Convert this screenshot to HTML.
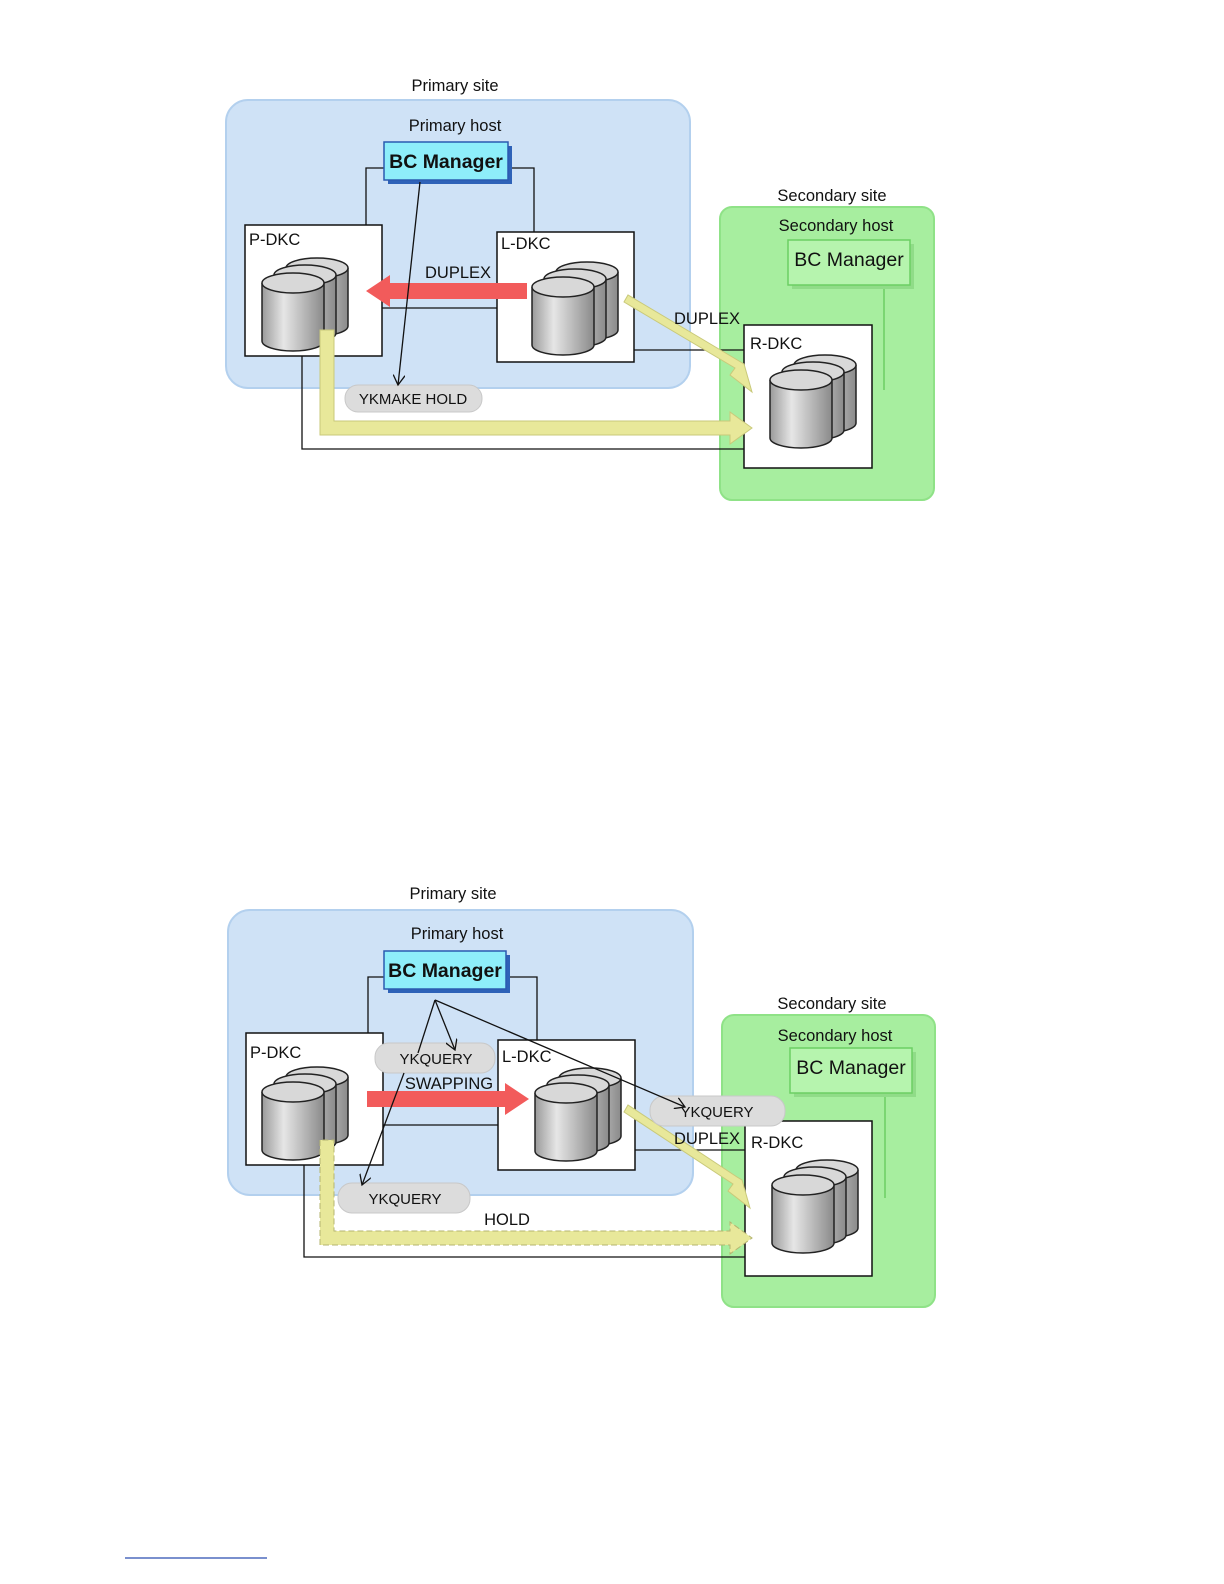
<!DOCTYPE html>
<html><head><meta charset="utf-8"><style>
html,body{margin:0;padding:0;background:#fff;}
svg{display:block;font-family:"Liberation Sans",sans-serif;}
</style></head><body>
<svg width="1224" height="1584" viewBox="0 0 1224 1584" xmlns="http://www.w3.org/2000/svg">
<defs>
<linearGradient id="cg" x1="0" x2="1" y1="0" y2="0">
<stop offset="0" stop-color="#9a9a9a"/><stop offset="0.35" stop-color="#e6e6e6"/><stop offset="1" stop-color="#8a8a8a"/>
</linearGradient>
<g id="cyl1">
<path d="M0,10 v58 a31,10 0 0 0 62,0 v-58" fill="url(#cg)" stroke="#222" stroke-width="1.5"/>
<ellipse cx="31" cy="10" rx="31" ry="10" fill="#d8d8d8" stroke="#222" stroke-width="1.5"/>
</g>
<g id="stack">
<use href="#cyl1" x="24" y="0"/>
<use href="#cyl1" x="12" y="7"/>
<use href="#cyl1" x="0" y="15"/>
</g>
<marker id="ah" markerWidth="12" markerHeight="12" refX="10" refY="6" orient="auto" markerUnits="userSpaceOnUse">
<path d="M0,0 L10,6 L0,12" fill="none" stroke="#111" stroke-width="1.3"/>
</marker>
</defs>

<!-- ===== Diagram 1 ===== -->
<text x="455" y="91" font-size="16.5" text-anchor="middle" fill="#111">Primary site</text>
<rect x="226" y="100" width="464" height="288" rx="22" fill="#cfe2f6" stroke="#b3d0ee" stroke-width="2"/>
<text x="455" y="131" font-size="16.5" text-anchor="middle" fill="#111">Primary host</text>
<polyline points="384,168 366,168 366,225" fill="none" stroke="#111" stroke-width="1.3"/>
<polyline points="508,168 534,168 534,232" fill="none" stroke="#111" stroke-width="1.3"/>
<rect x="388" y="146" width="124" height="38" fill="#2e62b8"/>
<rect x="384" y="142" width="124" height="38" fill="#8eeefa" stroke="#2a5bb0" stroke-width="1.5"/>
<text x="446" y="168" font-size="19.5" font-weight="bold" text-anchor="middle" fill="#111">BC Manager</text>

<rect x="720" y="207" width="214" height="293" rx="12" fill="#a7ee9f" stroke="#8fe287" stroke-width="2"/>
<text x="832" y="201" font-size="16.5" text-anchor="middle" fill="#111">Secondary site</text>
<text x="836" y="231" font-size="16.5" text-anchor="middle" fill="#111">Secondary host</text>
<rect x="792" y="244" width="122" height="45" fill="#90dc88"/>
<rect x="788" y="240" width="122" height="45" fill="#b6f4ae" stroke="#6ccf63" stroke-width="1.5"/>
<text x="849" y="266" font-size="19.5" text-anchor="middle" fill="#111">BC Manager</text>
<line x1="884" y1="289" x2="884" y2="390" stroke="#6ccf63" stroke-width="1.5"/>

<polyline points="302,356 302,449 744,449" fill="none" stroke="#111" stroke-width="1.3"/>
<line x1="382" y1="308" x2="497" y2="308" stroke="#111" stroke-width="1.3"/>
<line x1="634" y1="350" x2="744" y2="350" stroke="#111" stroke-width="1.3"/>

<rect x="245" y="225" width="137" height="131" fill="#fff" stroke="#111" stroke-width="1.5"/>
<text x="249" y="245" font-size="16.5" fill="#111">P-DKC</text>
<use href="#stack" x="262" y="258"/>
<rect x="497" y="232" width="137" height="130" fill="#fff" stroke="#111" stroke-width="1.5"/>
<text x="501" y="249" font-size="16.5" fill="#111">L-DKC</text>
<use href="#stack" x="532" y="262"/>
<rect x="744" y="325" width="128" height="143" fill="#fff" stroke="#111" stroke-width="1.5"/>
<text x="750" y="349" font-size="16.5" fill="#111">R-DKC</text>
<use href="#stack" x="770" y="355"/>

<polygon points="527,283 390,283 390,275 366,291 390,307 390,299 527,299" fill="#f25b5b"/>
<text x="458" y="278" font-size="16.5" text-anchor="middle" fill="#111">DUPLEX</text>
<path d="M320,330 V435 H730 V444 L752,428 L730,412 V421 H334 V330 Z" fill="#e8e89a" stroke="#c9c97a" stroke-width="1"/>
<path d="M624,302 L735,368 L730,375 L752,392 L744,364 L739,361 L628,295 Z" fill="#e8e89a" stroke="#c9c97a" stroke-width="1"/>
<text x="707" y="324" font-size="16.5" text-anchor="middle" fill="#111">DUPLEX</text>

<rect x="345" y="385" width="137" height="27" rx="13" fill="#dcdcdc" stroke="#c8c8c8"/>
<text x="413" y="404" font-size="15" text-anchor="middle" fill="#111">YKMAKE HOLD</text>
<line x1="420" y1="182" x2="398" y2="385" stroke="#111" stroke-width="1.3" marker-end="url(#ah)"/>

<!-- ===== Diagram 2 ===== -->
<text x="453" y="899" font-size="16.5" text-anchor="middle" fill="#111">Primary site</text>
<rect x="228" y="910" width="465" height="285" rx="22" fill="#cfe2f6" stroke="#b3d0ee" stroke-width="2"/>
<text x="457" y="939" font-size="16.5" text-anchor="middle" fill="#111">Primary host</text>
<polyline points="384,977 368,977 368,1033" fill="none" stroke="#111" stroke-width="1.3"/>
<polyline points="506,977 537,977 537,1040" fill="none" stroke="#111" stroke-width="1.3"/>
<rect x="388" y="955" width="122" height="38" fill="#2e62b8"/>
<rect x="384" y="951" width="122" height="38" fill="#8eeefa" stroke="#2a5bb0" stroke-width="1.5"/>
<text x="445" y="977" font-size="19.5" font-weight="bold" text-anchor="middle" fill="#111">BC Manager</text>

<rect x="722" y="1015" width="213" height="292" rx="12" fill="#a7ee9f" stroke="#8fe287" stroke-width="2"/>
<text x="832" y="1009" font-size="16.5" text-anchor="middle" fill="#111">Secondary site</text>
<text x="835" y="1041" font-size="16.5" text-anchor="middle" fill="#111">Secondary host</text>
<rect x="794" y="1052" width="122" height="45" fill="#90dc88"/>
<rect x="790" y="1048" width="122" height="45" fill="#b6f4ae" stroke="#6ccf63" stroke-width="1.5"/>
<text x="851" y="1074" font-size="19.5" text-anchor="middle" fill="#111">BC Manager</text>
<line x1="885" y1="1097" x2="885" y2="1198" stroke="#6ccf63" stroke-width="1.5"/>

<polyline points="304,1165 304,1257 745,1257" fill="none" stroke="#111" stroke-width="1.3"/>
<line x1="383" y1="1125" x2="498" y2="1125" stroke="#111" stroke-width="1.3"/>
<line x1="635" y1="1150" x2="745" y2="1150" stroke="#111" stroke-width="1.3"/>

<rect x="246" y="1033" width="137" height="132" fill="#fff" stroke="#111" stroke-width="1.5"/>
<text x="250" y="1058" font-size="16.5" fill="#111">P-DKC</text>
<use href="#stack" x="262" y="1067"/>
<rect x="498" y="1040" width="137" height="130" fill="#fff" stroke="#111" stroke-width="1.5"/>
<text x="502" y="1062" font-size="16.5" fill="#111">L-DKC</text>
<use href="#stack" x="535" y="1068"/>
<rect x="745" y="1121" width="127" height="155" fill="#fff" stroke="#111" stroke-width="1.5"/>
<text x="751" y="1148" font-size="16.5" fill="#111">R-DKC</text>
<use href="#stack" x="772" y="1160"/>

<polygon points="367,1091 505,1091 505,1083 529,1099 505,1115 505,1107 367,1107" fill="#f25b5b"/>
<text x="449" y="1089" font-size="16.5" text-anchor="middle" fill="#111">SWAPPING</text>
<path d="M320,1140 V1245 H730 V1254 L752,1238 L730,1222 V1231 H334 V1140 Z" fill="#e8e89a" stroke="#b5b570" stroke-width="1" stroke-dasharray="6,3"/>
<path d="M624,1112 L733,1184 L728,1191 L750,1208 L742,1180 L737,1177 L628,1105 Z" fill="#e8e89a" stroke="#c9c97a" stroke-width="1"/>
<text x="707" y="1144" font-size="16.5" text-anchor="middle" fill="#111">DUPLEX</text>
<text x="507" y="1225" font-size="16.5" text-anchor="middle" fill="#111">HOLD</text>

<rect x="375" y="1043" width="120" height="30" rx="14" fill="#dcdcdc" stroke="#c8c8c8"/>
<text x="436" y="1064" font-size="15" text-anchor="middle" fill="#111">YKQUERY</text>
<rect x="650" y="1096" width="135" height="30" rx="14" fill="#dcdcdc" stroke="#c8c8c8"/>
<text x="717" y="1117" font-size="15" text-anchor="middle" fill="#111">YKQUERY</text>
<rect x="338" y="1183" width="132" height="30" rx="14" fill="#dcdcdc" stroke="#c8c8c8"/>
<text x="405" y="1204" font-size="15" text-anchor="middle" fill="#111">YKQUERY</text>

<line x1="435" y1="1000" x2="418" y2="1053" stroke="#111" stroke-width="1.3"/>
<line x1="435" y1="1000" x2="455" y2="1050" stroke="#111" stroke-width="1.3" marker-end="url(#ah)"/>
<line x1="435" y1="1000" x2="685" y2="1107" stroke="#111" stroke-width="1.3" marker-end="url(#ah)"/>
<line x1="404" y1="1073" x2="362" y2="1185" stroke="#111" stroke-width="1.3" marker-end="url(#ah)"/>

<line x1="125" y1="1558" x2="267" y2="1558" stroke="#2a4db0" stroke-width="1.3"/>
</svg>
</body></html>
